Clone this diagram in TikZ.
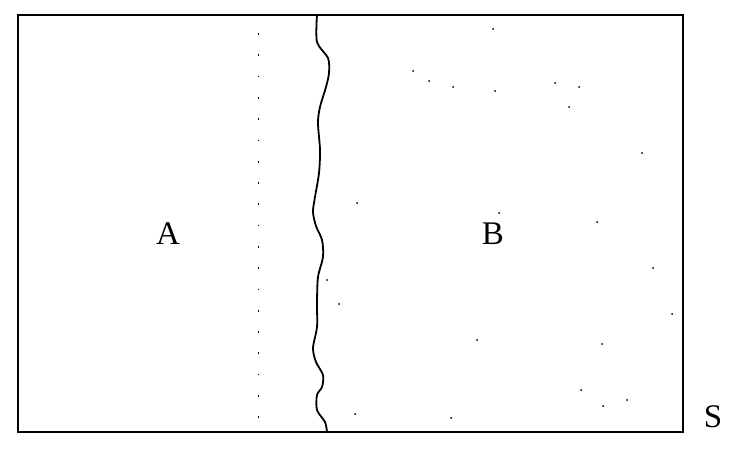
\documentclass[tikz,border=0pt]{standalone}
\usepackage{fontspec}
\setmainfont{Liberation Serif}
\begin{document}
\begin{tikzpicture}[x=1pt,y=-1pt]
\pgfmathsetmacro{\xl}{18}
\pgfmathsetmacro{\xr}{683}
\pgfmathsetmacro{\yt}{15}
\pgfmathsetmacro{\yb}{432}
\pgfmathsetmacro{\xd}{258.5}
\useasboundingbox (0,0) rectangle (732,452);
  \draw[line width=1.9pt](\xl,\yt) rectangle (\xr,\yb);
  % boundary between A and B
  \draw[line width=1.8pt] plot[smooth,tension=.5] coordinates {(317,\yt) (317,42) (328,58) (329,73) (326,87) (320,107) (318,123) (320,150) (319,173) (315,197) (313,212) (316,226) (322,240) (323,257) (318,277) (317,303) (317,327) (313,348) (316,362) (323,375) (322,387) (317,395) (317,410) (325,422) (327,\yb)};
  % dotted line in A
  \draw[line width=1.7pt,dash pattern=on 1.7pt off 19.58pt](\xd,33.2)--(\xd,418.5);
  % dots in B
  \foreach \p in {(493,29),(413,71),(429,81),(453,87),(495,91),(555,83),(579,87),(569,107),(642,153),(357,203),(499,213),(597,222),(653,268),(327,280),(339,304),(672,314),(477,340),(602,344),(581,390),(627,400),(603,406),(355,414),(451,418)}
    \fill \p circle (1pt);
\node (a) at (168,234) {\fontsize{33}{36}\selectfont A};
\node (b) at (493,234) {\fontsize{33}{36}\selectfont B};
\node (s) at (713,417) {\fontsize{33}{36}\selectfont S};
\end{tikzpicture}
\end{document}
